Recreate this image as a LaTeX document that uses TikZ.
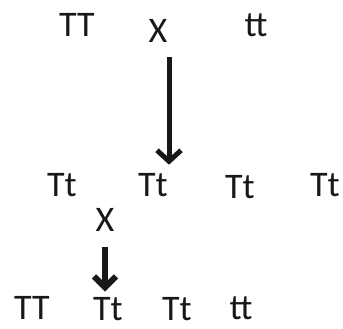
\documentclass[tikz,border=0pt]{standalone}
\usepackage{fontspec}
\setmainfont{Carlito}
\usetikzlibrary{positioning,arrows.meta,calc}
\definecolor{InkBlack}{RGB}{24,24,24}
\tikzset{
  geno/.style={inner sep=0pt,anchor=base,text=InkBlack,
    font=\fontsize{36}{42}\selectfont},
  cross/.style={inner sep=0pt,anchor=base,text=InkBlack,
    font=\fontsize{36}{42}\selectfont},
  bigflow/.style={-{Straight Barb[length=11pt,width=24pt]},line width=5pt,draw=InkBlack},
  smallflow/.style={-{Straight Barb[length=11pt,width=22pt]},line width=6pt,draw=InkBlack}
}

\begin{document}
\begin{tikzpicture}[x=1pt,y=1pt]
  \useasboundingbox[fill=white] (0,0) rectangle (343,329);
  % parents
  \node[geno] (pTT) at (77,292) {TT};
  \node[cross] (cross1) at (158,286) {X};
  \node[geno] (ptt) at (256,292) {tt};
  % first generation
  \node[geno] (fa) at (62,132) {Tt};
  \node[geno] (fb) at (153,132) {Tt};
  \node[geno] (fc) at (240,130) {Tt};
  \node[geno] (fd) at (325,132) {Tt};
  \node[cross] (cross2) at (105,97) {X};
  % second generation
  \node[geno] (sa) at (32,9) {TT};
  \node[geno] (sb) at (108,8) {Tt};
  \node[geno] (sc) at (177,8) {Tt};
  \node[geno] (sd) at (241,9) {tt};
  \draw[bigflow] ($(cross1.south)+(11,-14)$) -- ($(fb.north)+(16,9)$);
  \draw[smallflow] ($(cross2.south)+(0,-15)$) -- ($(sb.north)+(-3,6)$);
\end{tikzpicture}
\end{document}
